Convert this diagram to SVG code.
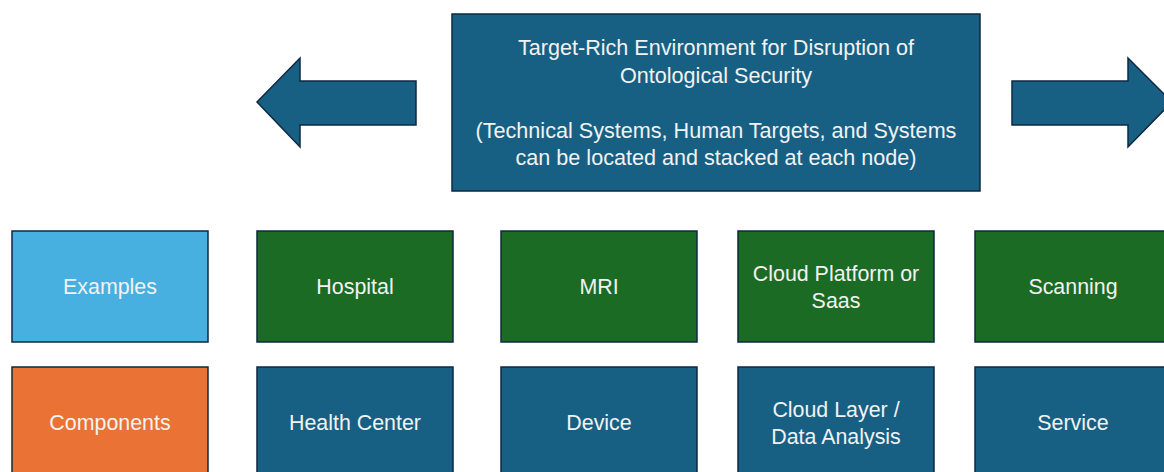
<svg xmlns="http://www.w3.org/2000/svg" width="1164" height="472" viewBox="0 0 1164 472">
<style>
.box{stroke:#0E2841;stroke-width:1.5}
.blue{fill:#176084}
.green{fill:#1C6B25}
.lblue{fill:#47B0E0}
.orange{fill:#E97234}
.arrow{fill:#176084;stroke:#0E2841;stroke-width:1.5}
text{font-family:"Liberation Sans",Arial,sans-serif;font-size:21.4px;fill:#F2F2F2;text-anchor:middle}
.t{font-size:21.6px}
</style>
<rect width="1164" height="472" fill="#FFFFFF"/>
<g id="connectors">
<path class="arrow" d="M416,81 L300,81 L300,58 L257,102 L300,147 L300,125 L416,125 Z"/>
<path class="arrow" d="M1012,81 L1128,81 L1128,58 L1172,102 L1128,147 L1128,125 L1012,125 Z"/>
</g>
<g id="title">
<rect class="box blue" x="452" y="14" width="528" height="177"/>
<text class="t" x="716" y="55">Target-Rich Environment for Disruption of</text>
<text class="t" x="716" y="83">Ontological Security</text>
<text class="t" x="716" y="138">(Technical Systems, Human Targets, and Systems</text>
<text class="t" x="716" y="165">can be located and stacked at each node)</text>
</g>
<g id="examples"><rect class="box lblue" x="12" y="231" width="196" height="111"/><text x="110" y="294">Examples</text></g>
<g id="hospital"><rect class="box green" x="257" y="231" width="196" height="111"/><text x="355" y="294">Hospital</text></g>
<g id="mri"><rect class="box green" x="501" y="231" width="196" height="111"/><text x="599" y="294">MRI</text></g>
<g id="cloud-platform"><rect class="box green" x="738" y="231" width="196" height="111"/><text x="836" y="281">Cloud Platform or</text><text x="836" y="308">Saas</text></g>
<g id="scanning"><rect class="box green" x="975" y="231" width="196" height="111"/><text x="1073" y="294">Scanning</text></g>
<g id="components"><rect class="box orange" x="12" y="367" width="196" height="111"/><text x="110" y="430">Components</text></g>
<g id="health-center"><rect class="box blue" x="257" y="367" width="196" height="111"/><text x="355" y="430">Health Center</text></g>
<g id="device"><rect class="box blue" x="501" y="367" width="196" height="111"/><text x="599" y="430">Device</text></g>
<g id="cloud-layer"><rect class="box blue" x="738" y="367" width="196" height="111"/><text x="836" y="417">Cloud Layer /</text><text x="836" y="444">Data Analysis</text></g>
<g id="service"><rect class="box blue" x="975" y="367" width="196" height="111"/><text x="1073" y="430">Service</text></g>
</svg>
